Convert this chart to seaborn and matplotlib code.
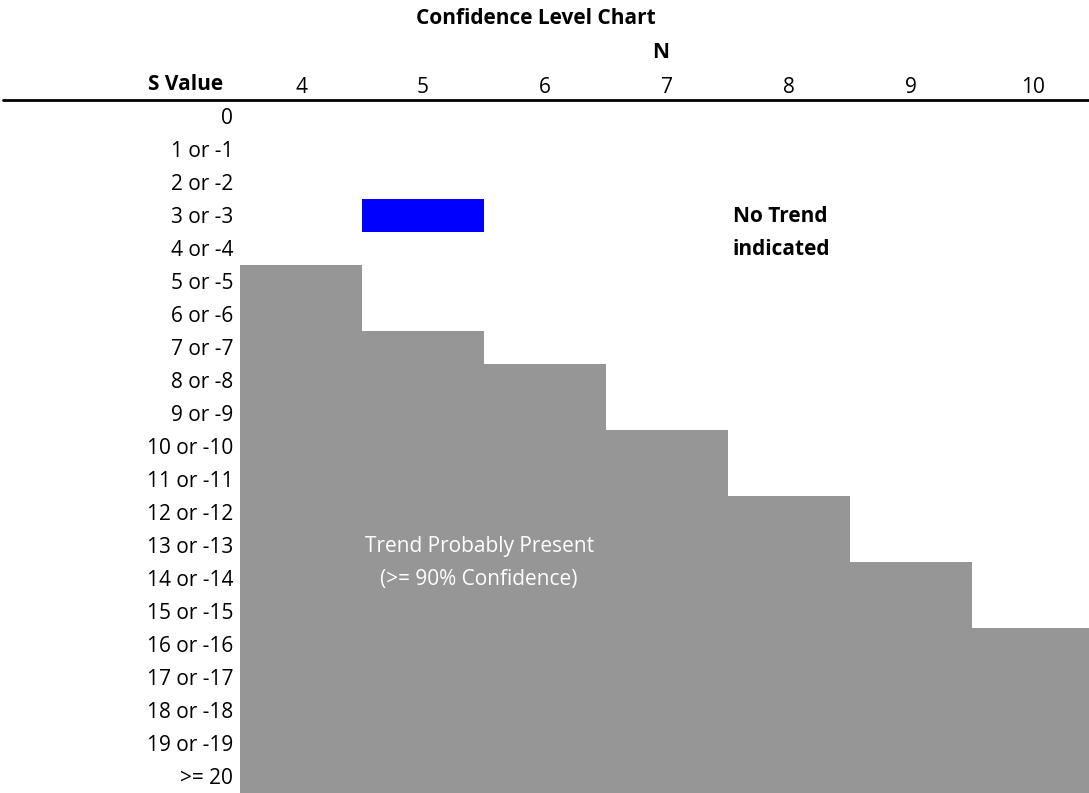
import matplotlib.pyplot as plt
from matplotlib.colors import ListedColormap
from matplotlib.transforms import ScaledTranslation
import pandas as pd
import seaborn as sns

sns.set_style("white")
plt.rcParams["font.family"] = ["Open Sans", "DejaVu Sans"]
plt.rcParams["text.color"] = "black"
plt.rcParams["xtick.color"] = "black"
plt.rcParams["ytick.color"] = "black"

# N (number of samples) across the top
n_values = [4, 5, 6, 7, 8, 9, 10]
# S value rows
s_labels = ["0", "1 or -1", "2 or -2", "3 or -3", "4 or -4", "5 or -5",
            "6 or -6", "7 or -7", "8 or -8", "9 or -9", "10 or -10",
            "11 or -11", "12 or -12", "13 or -13", "14 or -14", "15 or -15",
            "16 or -16", "17 or -17", "18 or -18", "19 or -19", ">= 20"]
# smallest |S| row that gives >= 90% confidence for each N
min_s_90 = [5, 7, 8, 10, 12, 14, 16]
# highlighted current result
current_n = 5
current_s = 3

grid = pd.DataFrame(0, index=s_labels, columns=n_values)
for col, s_min in enumerate(min_s_90):
    grid.iloc[s_min:, col] = 1
grid.iloc[current_s, n_values.index(current_n)] = 2

fig = plt.figure(figsize=(10.89, 7.93), dpi=100)
ax = fig.add_axes([240 / 1089, 0.5 / 793, 854 / 1089, 693 / 793])

cmap = ListedColormap(["white", "#969696", "#0000ff"])
sns.heatmap(grid, cmap=cmap, vmin=0, vmax=2, cbar=False, ax=ax,
            xticklabels=n_values, yticklabels=s_labels)

ax.xaxis.tick_top()
ax.tick_params(axis="both", length=0, labelsize=15, labelcolor="black")
ax.tick_params(axis="x", pad=1)
ax.tick_params(axis="y", pad=5)
ax.set_yticklabels(s_labels, rotation=0)
ax.set_xlabel("")
ax.set_ylabel("")

# excel-style bottom alignment: nudge row labels down a little
shift = ScaledTranslation(0, -2 / 72, fig.dpi_scale_trans)
for lab in ax.get_yticklabels():
    lab.set_transform(lab.get_transform() + shift)

# header rule
ax.axhline(0, xmin=-237 / 854, xmax=1, color="black", lw=2, clip_on=False)

fig.text(536 / 1089, 1 - 18 / 793, "Confidence Level Chart", ha="center",
         va="center", fontsize=15, fontweight="bold")
fig.text(661 / 1089, 1 - 52 / 793, "N", ha="center", va="center",
         fontsize=15, fontweight="bold")
fig.text(223 / 1089, 1 - 85 / 793, "S Value", ha="right", va="center",
         fontsize=15, fontweight="bold")

ax.text(4.04, 3.55, "No Trend", ha="left", va="center", fontsize=15,
        fontweight="bold")
ax.text(4.04, 4.55, "indicated", ha="left", va="center", fontsize=15,
        fontweight="bold")
ax.text(1.96, 13.55, "Trend Probably Present", ha="center", va="center",
        fontsize=15, color="white")
ax.text(1.96, 14.55, "(>= 90% Confidence)", ha="center", va="center",
        fontsize=15, color="white")

fig.savefig("out.png", dpi=100)
